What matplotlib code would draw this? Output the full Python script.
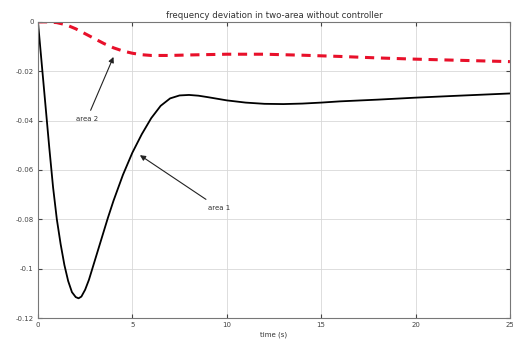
import matplotlib
matplotlib.use("Agg")
import matplotlib.pyplot as plt
from matplotlib.ticker import FuncFormatter

plt.rcParams['axes.unicode_minus'] = False
plt.rcParams['font.family'] = 'DejaVu Sans'

# === Data ===
t_area1 = [0, 0.2, 0.4, 0.6, 0.8, 1.0, 1.2, 1.4, 1.6, 1.8, 2.0, 2.15, 2.3, 2.5, 2.7,
           2.9, 3.1, 3.3, 3.5, 3.7, 4.0, 4.5, 5.0, 5.5, 6.0, 6.5, 7.0, 7.5, 8.0, 8.5,
           9.0, 10, 11, 12, 13, 14, 15, 16, 18, 20, 22, 25]
f_area1 = [0, -0.017, -0.034, -0.051, -0.067, -0.080, -0.090, -0.0985, -0.105, -0.1095,
           -0.1115, -0.112, -0.1113, -0.1085, -0.1045, -0.0995, -0.0945, -0.0895,
           -0.0845, -0.0795, -0.0725, -0.062, -0.053, -0.0455, -0.039, -0.034, -0.031,
           -0.0298, -0.0296, -0.0299, -0.0305, -0.0318, -0.0327, -0.0332, -0.0333,
           -0.0331, -0.0327, -0.0322, -0.0315, -0.0307, -0.0300, -0.0290]

t_area2 = [0, 0.5, 1.0, 1.5, 2.0, 2.5, 3.0, 3.5, 4.0, 4.5, 5.0, 5.5, 6.0, 7.0, 8.0,
           10, 12, 14, 16, 18, 20, 22, 25]
f_area2 = [0, 0, -0.0003, -0.0012, -0.0028, -0.0048, -0.0068, -0.0088, -0.0105,
           -0.0118, -0.0127, -0.0133, -0.0136, -0.0136, -0.0134, -0.0131, -0.0131,
           -0.0135, -0.0140, -0.0146, -0.0151, -0.0155, -0.0161]

x_ticks = [0, 5, 10, 15, 20, 25]
y_ticks = [0, -0.02, -0.04, -0.06, -0.08, -0.1, -0.12]

# === Figure ===
fig = plt.figure(figsize=(5.13, 3.42), dpi=100)
ax = fig.add_axes([0.074, 0.070, 0.920, 0.866])

ax.plot(t_area1, f_area1, color='black', linewidth=1.3, solid_joinstyle='round')
ax.plot(t_area2, f_area2, color='#e8102a', linewidth=2.2, linestyle=(0, (3, 2.2)))

ax.set_xlim(0, 25)
ax.set_ylim(-0.12, 0)
ax.set_xticks(x_ticks)
ax.set_yticks(y_ticks)
ax.yaxis.set_major_formatter(FuncFormatter(lambda v, p: f"{v:g}"))
ax.tick_params(direction='in', length=3, labelsize=5, colors='#444444',
               top=True, right=True, pad=3)
ax.grid(True, color='#d8d8d8', linewidth=0.6)
for s in ax.spines.values():
    s.set_color('#777777')
    s.set_linewidth(0.8)

ax.set_title("frequency deviation in two-area without controller", fontsize=6.2,
             color='#333333', pad=3)
ax.set_xlabel("time (s)", fontsize=5, color='#333333', labelpad=2)

ax.annotate("area 2", xy=(4.0, -0.0142), xytext=(2.6, -0.0392),
            fontsize=5, color='#333333', ha='center', va='center',
            arrowprops=dict(arrowstyle='-|>', color='#222222', lw=0.8,
                            mutation_scale=8, shrinkA=2, shrinkB=0))
ax.annotate("area 1", xy=(5.4, -0.054), xytext=(9.6, -0.0755),
            fontsize=5, color='#333333', ha='center', va='center',
            arrowprops=dict(arrowstyle='-|>', color='#222222', lw=0.8,
                            mutation_scale=8, shrinkA=4, shrinkB=0))

plt.savefig("out.png", dpi=100)
